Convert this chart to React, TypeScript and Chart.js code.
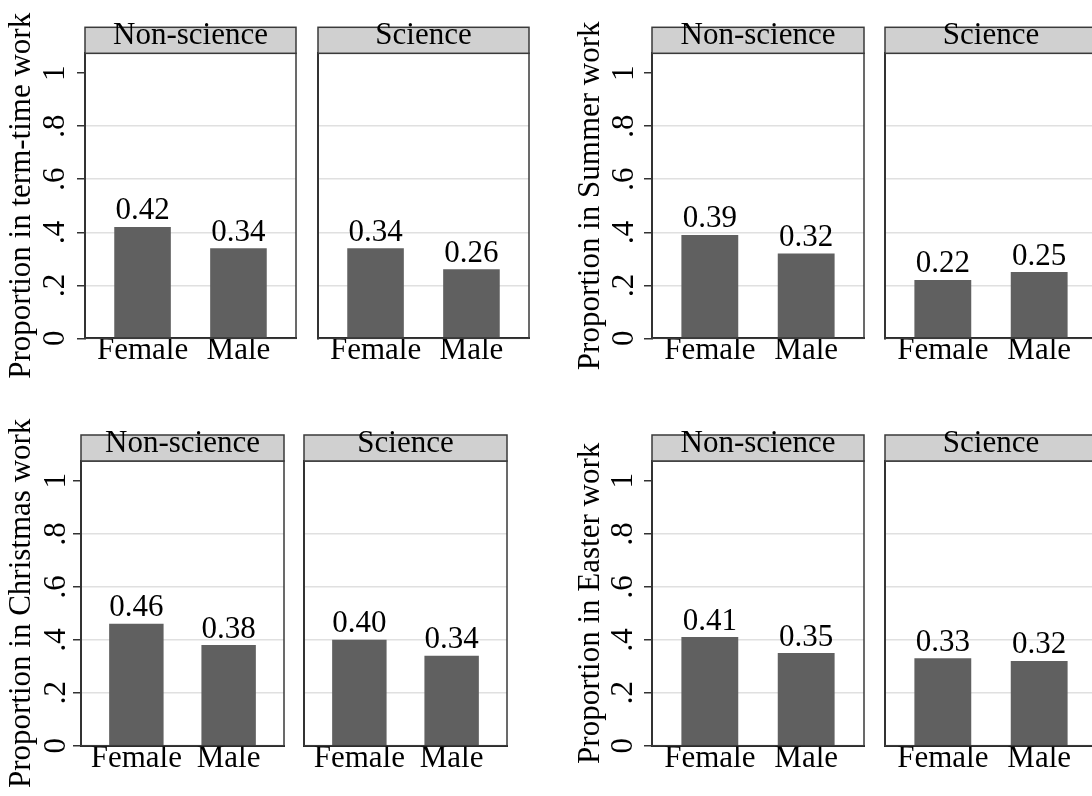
import React, { useEffect, useRef } from 'react';
import { Chart, registerables } from 'chart.js';

Chart.register(...registerables);

// ---------------- data ----------------
const categories = ['Female', 'Male'];
const panelLabels = ['Non-science', 'Science'];
const yTickValues = [0, 0.2, 0.4, 0.6, 0.8, 1];
const yTickLabels = ['0', '.2', '.4', '.6', '.8', '1'];
const yMax = 1.075;

const termNonScience = [0.42, 0.34];
const termScience = [0.34, 0.26];
const summerNonScience = [0.39, 0.32];
const summerScience = [0.22, 0.25];
const christmasNonScience = [0.46, 0.38];
const christmasScience = [0.40, 0.34];
const easterNonScience = [0.41, 0.35];
const easterScience = [0.33, 0.32];

const yTitles = [
  'Proportion in term-time work',
  'Proportion in Summer work',
  'Proportion in Christmas work',
  'Proportion in Easter work',
];

// ---------------- styling ----------------
const FONT = "'Liberation Serif', 'Times New Roman', Times, serif";
const FS = 31;
const BAR = '#606060';
const GRID = '#e0e0e0';
const FRAME = '#3a3a3a';
const STRIP_FILL = '#d0d0d0';
const STRIP_H = 26;

const decorPlugin = {
  id: 'stataDecor',
  afterDatasetsDraw(chart: any, _args: any, opts: any) {
    const { ctx, chartArea: a } = chart;
    ctx.save();
    // frame
    ctx.strokeStyle = FRAME;
    ctx.lineWidth = 1.5;
    ctx.strokeRect(a.left, a.top, a.right - a.left, a.bottom - a.top);
    // value labels
    const meta = chart.getDatasetMeta(0);
    ctx.fillStyle = '#000';
    ctx.font = `${FS}px ${FONT}`;
    ctx.textAlign = 'center';
    ctx.textBaseline = 'alphabetic';
    meta.data.forEach((el: any, i: number) => {
      const v = chart.data.datasets[0].data[i].y as number;
      ctx.fillText(v.toFixed(2), el.x, el.y - 7.5);
    });
    // strip
    ctx.fillStyle = STRIP_FILL;
    ctx.fillRect(a.left, a.top - STRIP_H, a.right - a.left, STRIP_H);
    ctx.strokeStyle = FRAME;
    ctx.lineWidth = 1.5;
    ctx.strokeRect(a.left, a.top - STRIP_H, a.right - a.left, STRIP_H);
    ctx.fillStyle = '#000';
    ctx.fillText(opts.text, (a.left + a.right) / 2, a.top - 9);
    ctx.restore();
  },
};

type PanelProps = {
  values: number[];
  strip: string;
  yTitle?: string;
  areaL: number;
  areaR: number;
  areaT: number;
  areaB: number;
  canvasL: number;
  canvasR: number;
  canvasT: number;
  canvasH: number;
  titleCenter?: number;
  tickCenter?: number;
};

function Panel(p: PanelProps) {
  const ref = useRef<HTMLCanvasElement>(null);
  const showY = !!p.yTitle;
  const cw = p.canvasR - p.canvasL;
  useEffect(() => {
    if (!ref.current) return;
    const yW = showY ? p.areaL - p.canvasL : 0;
    const padLeft = showY ? 0 : p.areaL - p.canvasL;
    const padRight = p.canvasR - p.areaR;
    const padTop = p.areaT - p.canvasT;
    const xH = p.canvasT + p.canvasH - p.areaB;
    const halfWidest = (0.75 * FS) / 2;
    const tickPad = showY ? p.areaL - (p.tickCenter as number) - 8 - halfWidest : 0;
    const titlePad = showY ? (p.titleCenter as number) - p.canvasL - FS / 2 : 0;

    const chart = new Chart(ref.current, {
      type: 'bar',
      data: {
        datasets: [
          {
            data: p.values.map((v, i) => ({ x: i, y: v })),
            backgroundColor: BAR,
            borderWidth: 0,
            barPercentage: 0.59,
            categoryPercentage: 1,
          } as any,
        ],
      },
      options: {
        animation: false,
        responsive: true,
        maintainAspectRatio: false,
        devicePixelRatio: 1,
        layout: { padding: { left: padLeft, right: padRight, top: padTop, bottom: 0 } },
        plugins: {
          legend: { display: false },
          tooltip: { enabled: false },
          stataDecor: { text: p.strip },
        } as any,
        scales: {
          x: {
            type: 'linear',
            offset: false,
            bounds: 'data',
            min: -0.6,
            max: 1.6,
            afterBuildTicks: (ax: any) => {
              ax.ticks = categories.map((_, i) => ({ value: i }));
            },
            afterFit: (ax: any) => {
              ax.height = xH;
            },
            grid: { display: false, drawTicks: false, offset: false },
            border: { display: true, color: '#222', width: 2 },
            ticks: {
              autoSkip: false,
              maxRotation: 0,
              minRotation: 0,
              padding: 2,
              color: '#000',
              font: { family: FONT, size: FS, lineHeight: 0.7 },
              callback: (v: any) => categories[v as number] ?? '',
            },
          },
          y: {
            type: 'linear',
            min: 0,
            max: yMax,
            afterBuildTicks: (ax: any) => {
              ax.ticks = yTickValues.map((v) => ({ value: v }));
            },
            afterFit: (ax: any) => {
              ax.width = yW;
            },
            grid: {
              color: (c: any) => {
                const v = c.tick ? c.tick.value : 0;
                return v > 0.01 && v < 0.99 ? GRID : 'rgba(0,0,0,0)';
              },
              lineWidth: 1.5,
              drawTicks: showY,
              tickLength: 8,
              tickColor: '#333',
              tickWidth: 1.5,
            },
            border: { display: true, color: '#222', width: 2 },
            ticks: {
              display: showY,
              autoSkip: false,
              minRotation: 90,
              maxRotation: 90,
              crossAlign: 'center',
              padding: tickPad,
              color: '#000',
              font: { family: FONT, size: FS },
              callback: (v: any) => {
                const idx = yTickValues.findIndex((t) => Math.abs(t - (v as number)) < 1e-6);
                return idx >= 0 ? yTickLabels[idx] : '';
              },
            },
            title: {
              display: showY,
              text: p.yTitle || '',
              color: '#000',
              font: { family: FONT, size: FS, lineHeight: 1 },
              padding: { top: titlePad, bottom: 0 },
            },
          },
        } as any,
      },
      plugins: [decorPlugin],
    });
    return () => chart.destroy();
  }, []);

  return (
    <div
      style={{
        position: 'absolute',
        left: p.canvasL,
        top: p.canvasT,
        width: cw,
        height: p.canvasH,
      }}
    >
      <canvas ref={ref} style={{ display: 'block' }} />
    </div>
  );
}

const TOP = { areaT: 53.3, areaB: 338.3, canvasT: 0, canvasH: 396 };
const BOT = { areaT: 461, areaB: 745.7, canvasT: 398, canvasH: 398 };

export default function App() {
  return (
    <div
      style={{
        position: 'fixed',
        left: 0,
        top: 0,
        width: 1092,
        height: 796,
        overflow: 'hidden',
        background: '#fff',
      }}
    >
      {/* term-time */}
      <Panel {...TOP} values={termNonScience} strip={panelLabels[0]} yTitle={yTitles[0]}
        areaL={85} areaR={296} canvasL={0} canvasR={302} titleCenter={22} tickCenter={56} />
      <Panel {...TOP} values={termScience} strip={panelLabels[1]}
        areaL={318} areaR={529} canvasL={310} canvasR={536} />
      {/* summer */}
      <Panel {...TOP} values={summerNonScience} strip={panelLabels[0]} yTitle={yTitles[1]}
        areaL={652} areaR={864} canvasL={560} canvasR={870} titleCenter={591} tickCenter={625} />
      <Panel {...TOP} values={summerScience} strip={panelLabels[1]}
        areaL={885} areaR={1097} canvasL={878} canvasR={1104} />
      {/* christmas */}
      <Panel {...BOT} values={christmasNonScience} strip={panelLabels[0]} yTitle={yTitles[2]}
        areaL={81} areaR={284} canvasL={0} canvasR={290} titleCenter={22} tickCenter={56.7} />
      <Panel {...BOT} values={christmasScience} strip={panelLabels[1]}
        areaL={304} areaR={507} canvasL={297} canvasR={514} />
      {/* easter */}
      <Panel {...BOT} values={easterNonScience} strip={panelLabels[0]} yTitle={yTitles[3]}
        areaL={652} areaR={864} canvasL={560} canvasR={870} titleCenter={591} tickCenter={624} />
      <Panel {...BOT} values={easterScience} strip={panelLabels[1]}
        areaL={885} areaR={1097} canvasL={878} canvasR={1104} />
    </div>
  );
}
